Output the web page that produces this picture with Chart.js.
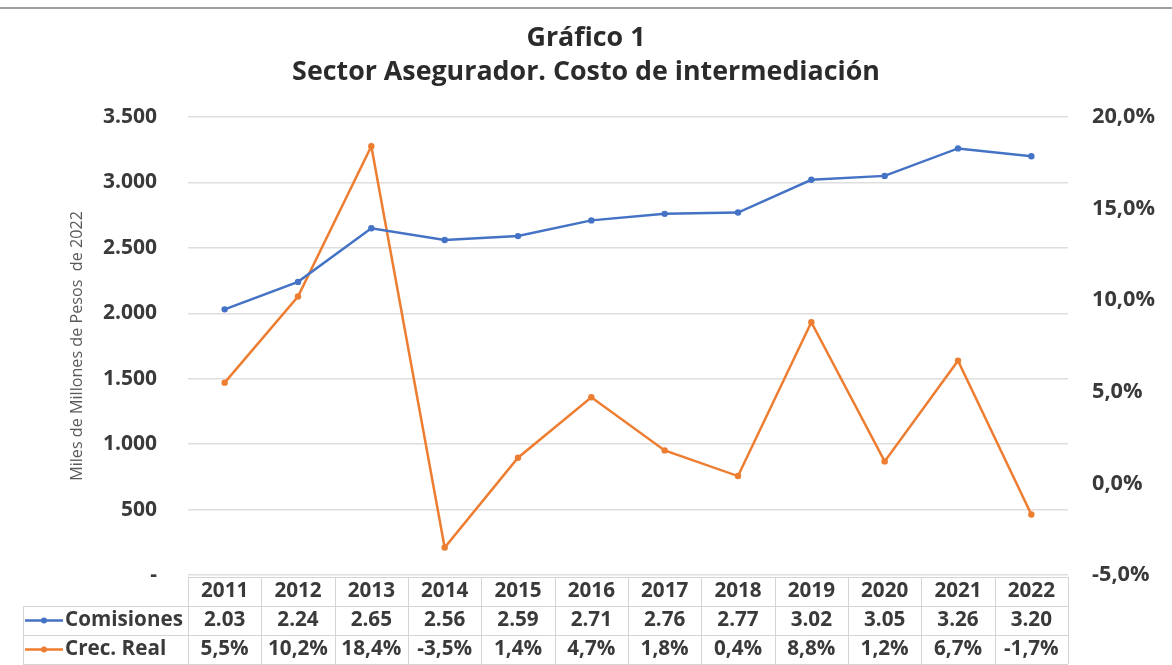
<!DOCTYPE html>
<html>
<head>
<meta charset="utf-8">
<script src="https://cdn.jsdelivr.net/npm/chart.js@4.4.1/dist/chart.umd.min.js"></script>
<style>
html,body{margin:0;padding:0;background:#fff;}
#wrap{width:1172px;height:665px;position:relative;}
</style>
</head>
<body>
<div id="wrap"><canvas id="c" width="1172" height="665"></canvas></div>
<script>
// ---- Data ----
const years = ['2011','2012','2013','2014','2015','2016','2017','2018','2019','2020','2021','2022'];
const comisiones = [2030,2240,2650,2560,2590,2710,2760,2770,3020,3050,3260,3200];
const crecReal = [5.5,10.2,18.4,-3.5,1.4,4.7,1.8,0.4,8.8,1.2,6.7,-1.7];
const seriesNames = ['Comisiones','Crec. Real'];
const titleLines = ['Gráfico 1','Sector Asegurador. Costo de intermediación'];
const leftAxisTitle = 'Miles de Millones de Pesos  de 2022';

// ---- Styles ----
const FAMILY = '"Open Sans", "Liberation Sans", sans-serif';
const BLUE = '#4472C4';
const ORANGE = '#ED7D31';
const TEXT = '#3a3a3a';

const mctx = document.createElement('canvas').getContext('2d');
function fit(text, width, weight){
  mctx.font = weight + ' 100px ' + FAMILY;
  return 100 * width / mctx.measureText(text).width;
}
const titleSize = fit(titleLines[1], 588, 'bold');
const tickSizeL = fit('3.500', 54, 'bold');
const tickSizeR = fit('20,0%', 63, 'bold');
const tableSize = fit('Comisiones', 118, 'bold');
const axisTitleSize = fit(leftAxisTitle, 270, 'normal');

function fmtThousands(v){
  if (v === 0) return '-';
  return String(v).replace(/\B(?=(\d{3})+(?!\d))/g, '.');
}
function fmtPct(v){ return v.toFixed(1).replace('.', ',') + '%'; }
function fmtCom(v){ return (v/1000).toFixed(2); }

const decorPlugin = {
  id: 'decor',
  beforeDraw(chart){
    const ctx = chart.ctx;
    ctx.save();
    ctx.fillStyle = '#fff';
    ctx.fillRect(0,0,chart.width,chart.height);
    ctx.fillStyle = '#9e9e9e';
    ctx.fillRect(0,7,chart.width,2);
    ctx.fillStyle = '#2b2b2b';
    ctx.textAlign = 'center';
    ctx.textBaseline = 'alphabetic';
    ctx.font = 'bold ' + titleSize + 'px ' + FAMILY;
    ctx.fillText(titleLines[0], chart.width/2, 46);
    ctx.fillText(titleLines[1], chart.width/2, 80);
    ctx.restore();
  },
  afterDraw(chart){
    const ctx = chart.ctx;
    const xs = chart.scales.x;
    const ca = chart.chartArea;
    const n = years.length;
    const colW = xs.getPixelForValue(1) - xs.getPixelForValue(0);
    const rowH = 29;
    const top = ca.bottom + 2;
    const labelLeft = 23;
    ctx.save();
    ctx.strokeStyle = '#d4d4d4';
    ctx.lineWidth = 1;
    ctx.beginPath();
    // horizontal lines
    ctx.moveTo(ca.left, top + 0.5); ctx.lineTo(ca.right, top + 0.5);
    for (let r = 1; r <= 3; r++){
      const y = Math.round(top + r*rowH) + 0.5;
      ctx.moveTo(labelLeft, y); ctx.lineTo(ca.right, y);
    }
    // vertical lines
    for (let i = 0; i <= n; i++){
      const x = Math.round(xs.getPixelForValue(i) - colW/2) + 0.5;
      ctx.moveTo(x, top); ctx.lineTo(x, top + 3*rowH);
    }
    ctx.moveTo(labelLeft + 0.5, top + rowH); ctx.lineTo(labelLeft + 0.5, top + 3*rowH);
    ctx.stroke();

    ctx.fillStyle = TEXT;
    ctx.font = 'bold ' + tableSize + 'px ' + FAMILY;
    ctx.textBaseline = 'middle';
    ctx.textAlign = 'center';
    for (let i = 0; i < n; i++){
      const x = xs.getPixelForValue(i);
      ctx.fillText(years[i], x, top + rowH*0.5);
      ctx.fillText(fmtCom(comisiones[i]), x, top + rowH*1.5);
      ctx.fillText(fmtPct(crecReal[i]), x, top + rowH*2.5);
    }
    // legend keys
    const colors = [BLUE, ORANGE];
    for (let r = 0; r < 2; r++){
      const y = top + rowH*(1.5 + r);
      ctx.strokeStyle = colors[r];
      ctx.lineWidth = 2.5;
      ctx.beginPath(); ctx.moveTo(25, y); ctx.lineTo(63, y); ctx.stroke();
      ctx.fillStyle = colors[r];
      ctx.beginPath(); ctx.arc(44, y, 3, 0, Math.PI*2); ctx.fill();
      ctx.fillStyle = TEXT;
      ctx.textAlign = 'left';
      ctx.fillText(seriesNames[r], 65, y);
    }
    ctx.restore();
  }
};

new Chart(document.getElementById('c'), {
  type: 'line',
  data: {
    labels: years,
    datasets: [
      { label: seriesNames[0], data: comisiones, yAxisID: 'y', borderColor: BLUE, backgroundColor: BLUE,
        borderWidth: 2.5, pointRadius: 3.2, pointBackgroundColor: BLUE, pointBorderWidth: 0, tension: 0 },
      { label: seriesNames[1], data: crecReal, yAxisID: 'y1', borderColor: ORANGE, backgroundColor: ORANGE,
        borderWidth: 2.5, pointRadius: 3.2, pointBackgroundColor: ORANGE, pointBorderWidth: 0, tension: 0 }
    ]
  },
  options: {
    responsive: false,
    animation: false,
    devicePixelRatio: 1,
    layout: { padding: { top: 117, bottom: 90, left: 0, right: 0 } },
    plugins: { legend: { display: false }, tooltip: { enabled: false }, title: { display: false } },
    scales: {
      x: { display: false, offset: true },
      y: {
        position: 'left', min: 0, max: 3500,
        ticks: { stepSize: 500, padding: 31, color: TEXT, font: { family: FAMILY, weight: 'bold', size: tickSizeL }, callback: v => fmtThousands(v) },
        grid: { color: '#dedede', lineWidth: 1.5, drawTicks: false },
        border: { display: false },
        title: { display: true, text: leftAxisTitle, color: '#595959', font: { family: FAMILY, size: axisTitleSize }, padding: { top: 68, bottom: 0 } },
        afterFit(s){ s.width = 188; }
      },
      y1: {
        position: 'right', min: -5, max: 20,
        ticks: { stepSize: 5, padding: 24, color: TEXT, font: { family: FAMILY, weight: 'bold', size: tickSizeR }, callback: v => fmtPct(v) },
        grid: { drawOnChartArea: false, drawTicks: false },
        border: { display: false },
        afterFit(s){ s.width = 104; }
      }
    }
  },
  plugins: [decorPlugin]
});
</script>
</body>
</html>
